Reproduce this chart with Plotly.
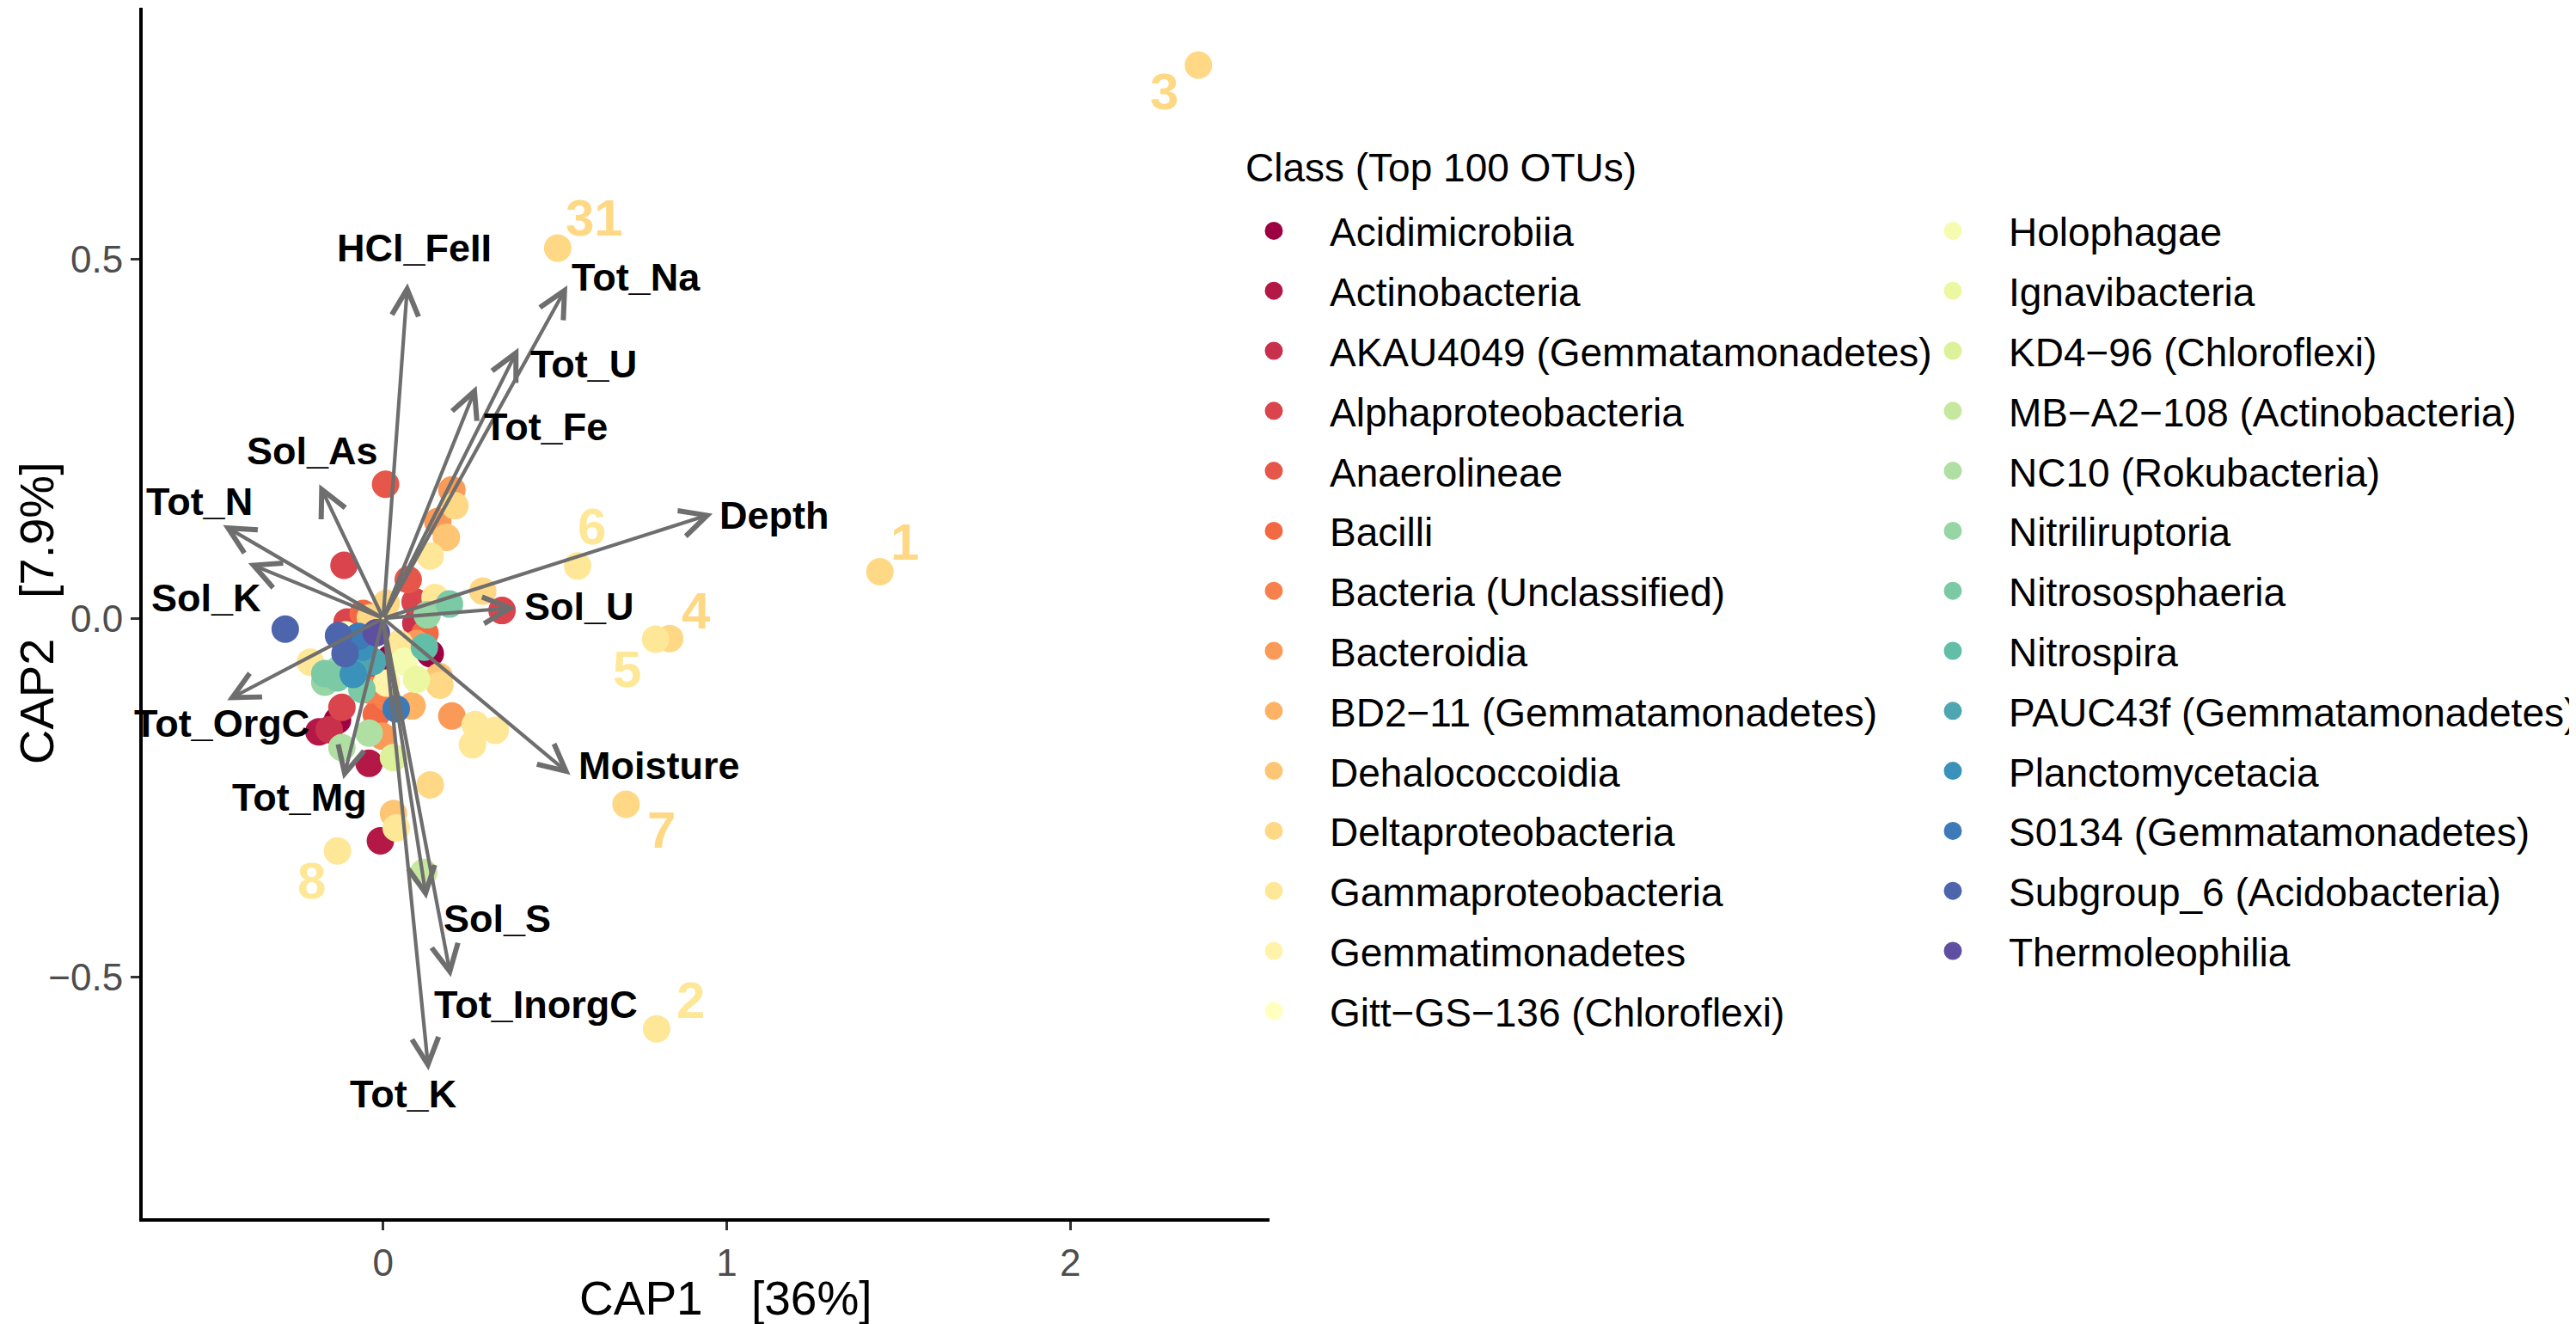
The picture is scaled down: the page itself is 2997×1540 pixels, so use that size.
import numpy as np
import plotly.graph_objects as go

# ---------------- data ----------------
classes = [
    "Acidimicrobiia", "Actinobacteria", "AKAU4049 (Gemmatamonadetes)", "Alphaproteobacteria",
    "Anaerolineae", "Bacilli", "Bacteria (Unclassified)", "Bacteroidia",
    "BD2\u221211 (Gemmatamonadetes)", "Dehalococcoidia", "Deltaproteobacteria",
    "Gammaproteobacteria", "Gemmatimonadetes", "Gitt\u2212GS\u2212136 (Chloroflexi)",
    "Holophagae", "Ignavibacteria", "KD4\u221296 (Chloroflexi)", "MB\u2212A2\u2212108 (Actinobacteria)",
    "NC10 (Rokubacteria)", "Nitriliruptoria", "Nitrososphaeria", "Nitrospira",
    "PAUC43f (Gemmatamonadetes)", "Planctomycetacia", "S0134 (Gemmatamonadetes)",
    "Subgroup_6 (Acidobacteria)", "Thermoleophilia",
]

# OTU scores: class index, CAP1, CAP2, label
otu_class = [10, 10, 10, 11, 10, 11, 10, 11, 11,
             4, 7, 10, 7, 9, 11, 3, 4, 10, 3, 20, 3, 11, 19, 2, 5, 7, 0, 0,
             10, 5, 10, 25, 25, 13, 24, 3, 10, 25, 11, 22, 19, 20, 11, 9,
             19, 20, 23, 3, 20, 15, 10, 8, 7, 11, 11, 11, 3, 0, 1, 2, 5, 7,
             18, 18, 1, 16, 24, 10, 9, 11, 1, 17,
             12, 14, 21, 26, 6, 6, 23, 22]
otu_cap1 = [2.373, 0.508, 1.446, 0.566, 0.834, 0.793, 0.707, 0.796, -0.133,
            0.007, 0.200, 0.209, 0.159, 0.184, 0.137, -0.114, 0.073, 0.290, 0.346, 0.193, 0.093, 0.151, 0.128, 0.095, 0.122, 0.097, 0.137, 0.022,
            0.009, -0.058, -0.037, -0.285, -0.130, -0.109, -0.072, -0.105, -0.062, -0.111, -0.212, -0.080, -0.130, -0.170, 0.047, 0.163,
            -0.170, -0.133, -0.087, -0.028, -0.062, 0.097, 0.165, 0.084, 0.200, 0.268, 0.326, 0.260, -0.120, -0.133, -0.187, -0.157, -0.020, -0.003,
            -0.041, -0.120, -0.041, 0.030, 0.038, 0.137, 0.030, 0.038, -0.008, 0.118,
            0.010, 0.060, 0.120, -0.020, 0.010, -0.040, -0.060, -0.030]
otu_cap2 = [0.771, 0.516, 0.065, 0.073, -0.028, -0.029, -0.259, -0.572, -0.324,
            0.187, 0.179, 0.157, 0.135, 0.113, 0.087, 0.074, 0.054, 0.038, 0.011, 0.020, 0.023, 0.029, 0.005, -0.007, -0.021, -0.035, -0.049, -0.055,
            0.021, 0.007, 0.001, -0.015, -0.024, -0.023, -0.025, -0.005, -0.055, -0.049, -0.061, -0.071, -0.071, -0.077, -0.035, -0.081,
            -0.089, -0.083, -0.078, -0.094, -0.099, -0.085, -0.093, -0.122, -0.136, -0.148, -0.156, -0.176, -0.124, -0.142, -0.158, -0.155, -0.134, -0.164,
            -0.160, -0.180, -0.202, -0.194, -0.126, -0.232, -0.272, -0.292, -0.310, -0.354,
            -0.090, -0.060, -0.040, -0.020, -0.110, -0.100, -0.040, -0.060]
otu_label = ["3", "31", "1", "6", "4", "5", "7", "2", "8"] + [""] * 71

# environmental vectors (biplot arrow tips)
env_names = ["HCl_FeII", "Tot_Na", "Tot_U", "Tot_Fe", "Sol_As", "Tot_N", "Sol_K", "Depth",
             "Sol_U", "Moisture", "Tot_OrgC", "Tot_Mg", "Sol_S", "Tot_InorgC", "Tot_K"]
env_cap1 = [0.071, 0.536, 0.394, 0.272, -0.186, -0.466, -0.393, 0.959,
            0.385, 0.545, -0.454, -0.116, 0.126, 0.197, 0.132]
env_cap2 = [0.467, 0.464, 0.377, 0.324, 0.187, 0.130, 0.077, 0.146,
            0.015, -0.218, -0.114, -0.224, -0.391, -0.500, -0.630]

x_ticks = [0, 1, 2]
y_ticks = [-0.5, 0.0, 0.5]
y_ticktext = ["\u22120.5", "0.0", "0.5"]
x_title_parts = ["CAP1", "[36%]"]
y_title = "CAP2   [7.9%]"
legend_title = "Class (Top 100 OTUs)"

# ---------------- styling / layout ----------------
W, H = 2997, 1540
FONT = "Liberation Sans, Arial, sans-serif"
spectral = ["#9E0142", "#D53E4F", "#F46D43", "#FDAE61", "#FEE08B", "#FFFFBF",
            "#E6F598", "#ABDDA4", "#66C2A5", "#3288BD", "#5E4FA2"]


def ramp(hexes, n):
    rgb = np.array([[int(h[i:i + 2], 16) for i in (1, 3, 5)] for h in hexes], float)
    t = np.linspace(0, len(hexes) - 1, n)
    out = []
    for tv in t:
        i = min(int(np.floor(tv)), len(hexes) - 2)
        f = tv - i
        c = rgb[i] * (1 - f) + rgb[i + 1] * f
        out.append("#%02X%02X%02X" % tuple(int(round(v)) for v in c))
    return out


colors = ramp(spectral, len(classes))

# label offsets (data units) for labelled OTUs
label_offset = {"3": (-0.10, -0.037), "31": (0.106, 0.042), "1": (0.073, 0.041),
                "6": (0.040, 0.055), "4": (0.077, 0.038), "5": (-0.082, -0.042),
                "7": (0.104, -0.036), "2": (0.098, 0.040), "8": (-0.075, -0.042)}
# env label centres (data units)
env_label_pos = {"HCl_FeII": (0.09, 0.516), "Tot_Na": (0.736, 0.475), "Tot_U": (0.584, 0.354),
                 "Tot_Fe": (0.473, 0.267), "Sol_As": (-0.205, 0.233), "Tot_N": (-0.535, 0.163),
                 "Sol_K": (-0.514, 0.029), "Depth": (1.14, 0.144), "Sol_U": (0.571, 0.016),
                 "Moisture": (0.803, -0.205), "Tot_OrgC": (-0.47, -0.146), "Tot_Mg": (-0.243, -0.25),
                 "Sol_S": (0.333, -0.419), "Tot_InorgC": (0.444, -0.538), "Tot_K": (0.06, -0.663)}

fig = go.Figure()
for ci, cname in enumerate(classes):
    idx = [i for i, c in enumerate(otu_class) if c == ci]
    fig.add_trace(go.Scatter(
        x=[otu_cap1[i] for i in idx], y=[otu_cap2[i] for i in idx],
        mode="markers", name=cname, legendgroup=cname,
        legend="legend" if ci < 14 else "legend2",
        marker=dict(size=27, color=colors[ci], line=dict(width=5, color=colors[ci])),
        hoverinfo="name",
    ))

# arrows
for n, x, y in zip(env_names, env_cap1, env_cap2):
    fig.add_annotation(x=x, y=y, ax=0, ay=0, xref="x", yref="y", axref="x", ayref="y",
                       text="", showarrow=True, arrowhead=5, arrowsize=1.45, arrowwidth=4.2,
                       arrowcolor="#6E6E6E", standoff=0, startstandoff=0)
    lx, ly = env_label_pos[n]
    fig.add_annotation(x=lx, y=ly, xref="x", yref="y", text=n, showarrow=False,
                       font=dict(family=FONT, size=45, color="black", weight="bold"),
                       xanchor="center", yanchor="middle")

# OTU labels
for i, lab in enumerate(otu_label):
    if lab:
        dx, dy = label_offset[lab]
        fig.add_annotation(x=otu_cap1[i] + dx, y=otu_cap2[i] + dy, xref="x", yref="y",
                           text=lab, showarrow=False,
                           font=dict(family=FONT, size=60, color=colors[otu_class[i]], weight="bold"),
                           xanchor="center", yanchor="middle")

left, right, top, bottom = 158, 1469, 0, 1409
px = lambda v: (v - left) / (right - left)
py = lambda v: (bottom - v) / (bottom - top)
# axis titles and legend title
fig.add_annotation(xref="paper", yref="paper", x=px(812), y=py(1502),
                   text=x_title_parts[0], showarrow=False, xanchor="right", yanchor="middle",
                   font=dict(family=FONT, size=55, color="black"))
fig.add_annotation(xref="paper", yref="paper", x=px(864), y=py(1502),
                   text=x_title_parts[1], showarrow=False, xanchor="left", yanchor="middle",
                   font=dict(family=FONT, size=55, color="black"))
fig.add_annotation(xref="paper", yref="paper", x=px(34), y=0.5,
                   text=y_title, textangle=-90, showarrow=False, xanchor="center", yanchor="middle",
                   font=dict(family=FONT, size=56, color="black"))
fig.add_annotation(xref="paper", yref="paper", x=px(1439), y=py(186),
                   text=legend_title, showarrow=False, xanchor="left", yanchor="middle",
                   font=dict(family=FONT, size=46, color="black"))

axis_common = dict(showgrid=False, zeroline=False, showline=True, linecolor="black", linewidth=4,
                   ticks="outside", ticklen=10, tickwidth=3, tickcolor="#333333",
                   tickfont=dict(family=FONT, size=44, color="#4D4D4D"))
leg_common = dict(xref="container", yref="container", xanchor="left", yanchor="top",
                  itemwidth=120, tracegroupgap=7, maxheight=1300,
                  font=dict(family=FONT, size=46, color="black"), bgcolor="rgba(0,0,0,0)")
fig.update_layout(
    width=W, height=H, plot_bgcolor="white", paper_bgcolor="white",
    margin=dict(l=left, r=W - right, t=top + 1, b=H - bottom, autoexpand=False),
    xaxis=dict(range=[-0.70, 2.58], tickvals=x_ticks, ticktext=[str(v) for v in x_ticks], **axis_common),
    yaxis=dict(range=[-0.836, 0.851], tickvals=y_ticks, ticktext=y_ticktext, **axis_common),
    legend=dict(x=1409 / W, y=1 - 224 / H, **leg_common),
    legend2=dict(x=2199 / W, y=1 - 224 / H, **leg_common),
    showlegend=True,
)

fig.write_html("out.html")
